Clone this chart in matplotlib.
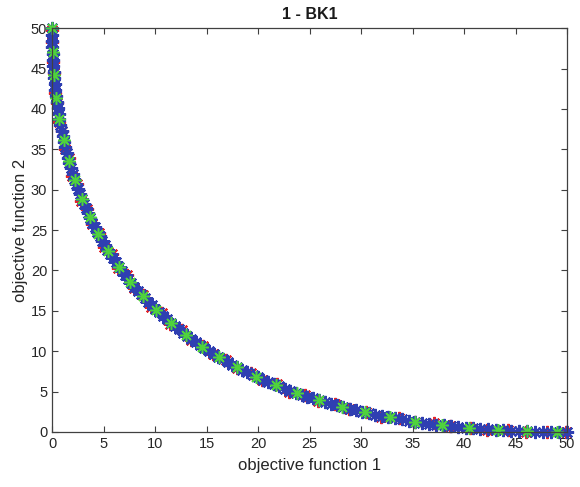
import matplotlib
matplotlib.use("Agg")
import matplotlib.pyplot as plt

plt.rcParams['font.family'] = ['Liberation Sans', 'DejaVu Sans']

red_f1 = [0.00, 0.03, 0.06, 0.20, 0.30, 0.52, 0.70, 1.00, 1.25, 1.65, 1.95, 2.45, 2.85,
          3.42, 3.88, 4.55, 5.08, 5.83, 6.44, 7.28, 7.95, 8.88, 9.62, 10.65, 11.45,
          12.58, 13.45, 14.66, 15.62, 16.90, 17.92, 19.30, 20.40, 21.86, 23.05, 24.60,
          25.85, 27.45, 28.80, 30.50, 31.90, 33.70, 35.20, 37.05, 38.65, 40.60, 42.25,
          44.25, 46.00, 48.10, 49.90]
red_f2 = [49.8, 48.3, 45.8, 44.4, 42.0, 40.8, 38.4, 37.3, 35.0, 33.9, 31.7, 30.7, 28.6,
          27.6, 25.7, 24.7, 22.9, 22.0, 20.3, 19.4, 17.8, 17.0, 15.5, 14.7, 13.4,
          12.6, 11.4, 10.7, 9.6, 8.9, 7.9, 7.3, 6.4, 5.9, 5.0, 4.6,
          3.85, 3.45, 2.8, 2.5, 1.9, 1.7, 1.22, 1.05, 0.68, 0.55, 0.28,
          0.22, 0.05, 0.04, 0.00]

# blue series
blue_f1 = [0.00, 0.00, 0.01, 0.03, 0.05, 0.08, 0.12, 0.16, 0.20, 0.26,
           0.32, 0.39, 0.46, 0.54, 0.63, 0.72, 0.82, 0.92, 1.04, 1.16,
           1.28, 1.41, 1.55, 1.69, 1.84, 2.00, 2.16, 2.33, 2.51, 2.69,
           2.88, 3.08, 3.28, 3.48, 3.70, 3.92, 4.15, 4.38, 4.62, 4.87,
           5.12, 5.38, 5.64, 5.92, 6.20, 6.48, 6.77, 7.07, 7.37, 7.68,
           8.00, 8.32, 8.65, 8.99, 9.33, 9.68, 10.04, 10.40, 10.76, 11.14,
           11.52, 11.91, 12.30, 12.70, 13.11, 13.52, 13.94, 14.36, 14.80, 15.24,
           15.68, 16.13, 16.59, 17.05, 17.52, 18.00, 18.48, 18.97, 19.47, 19.97,
           20.48, 21.00, 21.52, 22.04, 22.58, 23.12, 23.67, 24.22, 24.78, 25.35,
           25.92, 26.50, 27.08, 27.68, 28.28, 28.88, 29.49, 30.11, 30.73, 31.36,
           32.00, 32.64, 33.29, 33.95, 34.61, 35.28, 35.96, 36.64, 37.32, 38.02,
           38.72, 39.43, 40.14, 40.86, 41.59, 42.32, 43.06, 43.80, 44.56, 45.32,
           46.08, 46.85, 47.63, 48.41, 49.20, 50.00]
blue_f2 = [50.00, 49.20, 48.41, 47.63, 46.85, 46.08,
           45.32, 44.56, 43.80, 43.06, 42.32, 41.59, 40.86, 40.14, 39.43, 38.72,
           38.02, 37.32, 36.64, 35.96, 35.28, 34.61, 33.95, 33.29, 32.64, 32.00,
           31.36, 30.73, 30.11, 29.49, 28.88, 28.28, 27.68, 27.08, 26.50, 25.92,
           25.35, 24.78, 24.22, 23.67, 23.12, 22.58, 22.04, 21.52, 21.00, 20.48,
           19.97, 19.47, 18.97, 18.48, 18.00, 17.52, 17.05, 16.59, 16.13, 15.68,
           15.24, 14.80, 14.36, 13.94, 13.52, 13.11, 12.70, 12.30, 11.91, 11.52,
           11.14, 10.76, 10.40, 10.04, 9.68, 9.33, 8.99, 8.65, 8.32, 8.00,
           7.68, 7.37, 7.07, 6.77, 6.48, 6.20, 5.92, 5.64, 5.38, 5.12,
           4.87, 4.62, 4.38, 4.15, 3.92, 3.70, 3.48, 3.28, 3.08, 2.88,
           2.69, 2.51, 2.33, 2.16, 2.00, 1.84, 1.69, 1.55, 1.41, 1.28,
           1.16, 1.04, 0.92, 0.82, 0.72, 0.63, 0.54, 0.46, 0.39, 0.32,
           0.26, 0.20, 0.16, 0.12, 0.08, 0.05, 0.03, 0.01, 0.00, 0.00]

# green series
green_f1 = [0.00, 0.05, 0.18, 0.41, 0.72, 1.13, 1.62, 2.21, 2.88, 3.65, 4.50, 5.45, 6.48,
            7.61, 8.82, 10.13, 11.52, 13.01, 14.58, 16.25, 18.00, 19.85, 21.78, 23.81,
            25.92, 28.13, 30.42, 32.81, 35.28, 37.85, 40.50, 43.25, 46.08, 49.01]
green_f2 = [50.00, 47.05, 44.18, 41.41, 38.72, 36.13, 33.62, 31.21, 28.88, 26.65, 24.50,
            22.45, 20.48, 18.61, 16.82, 15.13, 13.52, 12.01, 10.58, 9.25, 8.00, 6.85,
            5.78, 4.81, 3.92, 3.13, 2.42, 1.81, 1.28, 0.85, 0.50, 0.25, 0.08, 0.01]

x_ticks = [0, 5, 10, 15, 20, 25, 30, 35, 40, 45, 50]
y_ticks = [0, 5, 10, 15, 20, 25, 30, 35, 40, 45, 50]

fig = plt.figure(figsize=(5.8, 4.87), dpi=100)
ax = fig.add_axes([0.0897, 0.113, 0.888, 0.829])

star = (8, 2, 0)
ax.plot(red_f1, red_f2, linestyle='none', marker=star, markersize=9.5,
        markeredgewidth=1.5, color='#e3262b', clip_on=False)
ax.plot(blue_f1, blue_f2, linestyle='none', marker=star, markersize=9.5,
        markeredgewidth=1.5, color='#2f3fb2', clip_on=False)
ax.plot(green_f1, green_f2, linestyle='none', marker=star, markersize=9,
        markeredgewidth=1.1, color='#4fd23c', clip_on=False)

ax.set_xlim(0, 50)
ax.set_ylim(0, 50)
ax.set_xticks(x_ticks)
ax.set_yticks(y_ticks)
ax.tick_params(direction='in', top=True, right=True, length=4, width=0.8,
               colors='#404040', labelsize=10.5, labelcolor='#262626')
for sp in ax.spines.values():
    sp.set_color('#404040')
    sp.set_linewidth(0.9)

ax.set_xlabel('objective function 1', fontsize=12, color='#262626', labelpad=5)
ax.set_ylabel('objective function 2', fontsize=12, color='#262626', labelpad=2)
ax.set_title('1 - BK1', fontsize=11.5, fontweight='bold', color='#1a1a1a', pad=7)

fig.savefig('out.png', dpi=100)
